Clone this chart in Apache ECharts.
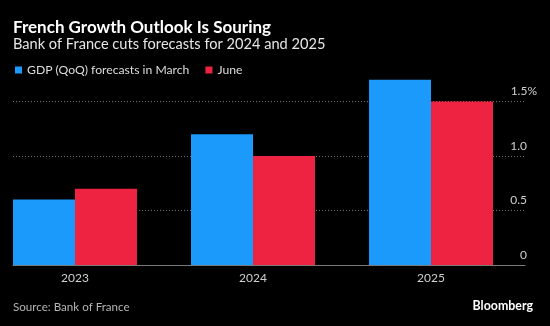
<!DOCTYPE html>
<html>
<head>
<meta charset="utf-8">
<script src="https://cdn.jsdelivr.net/npm/echarts@6/dist/echarts.min.js"></script>
<style>
  html, body { margin: 0; padding: 0; background: #000; }
  #chart { width: 550px; height: 326px; }
</style>
</head>
<body>
<div id="chart"></div>
<script>
// GDP (QoQ) growth forecasts, percent
const years = ['2023', '2024', '2025'];
const marchForecast = [0.6, 1.2, 1.7];
const juneForecast = [0.7, 1.0, 1.5];
const yTickValues = [0, 0.5, 1.0, 1.5];
const yTickLabels = ['0', '0.5', '1.0', '1.5%'];

const FONT = "Lato, 'Noto Sans', sans-serif";
const BLUE = '#1b9afc';
const RED = '#ee2241';
const LABEL = '#cfcfcf';

const chart = echarts.init(document.getElementById('chart'), null, { renderer: 'canvas' });

const toPoints = arr => arr.map((v, i) => [i, v]);

chart.setOption({
  backgroundColor: '#000',
  animation: false,
  textStyle: { fontFamily: FONT },
  title: [
    {
      text: 'French Growth Outlook Is Souring',
      left: 13, top: 19, padding: 0,
      textStyle: { color: '#fff', fontSize: 17, fontWeight: 'bold', fontFamily: FONT }
    },
    {
      text: 'Bank of France cuts forecasts for 2024 and 2025',
      left: 13, top: 37, padding: 0,
      textStyle: { color: '#e6e6e6', fontSize: 14.6, fontWeight: 'normal', fontFamily: FONT }
    },
    {
      text: 'Source: Bank of France',
      left: 13, top: 301, padding: 0,
      textStyle: { color: '#b4b4b4', fontSize: 11.6, fontWeight: 'normal', fontFamily: FONT }
    },
    {
      text: 'Bloomberg',
      right: 17, top: 300, padding: 0,
      textStyle: { color: '#fff', fontSize: 12.4, fontWeight: 'bold', fontFamily: FONT }
    }
  ],
  legend: {
    left: 15, top: 64, padding: 0,
    icon: 'rect',
    itemWidth: 7, itemHeight: 7,
    itemGap: 16,
    textStyle: { color: '#dcdcdc', fontSize: 12.2, fontFamily: FONT },
    data: ['GDP (QoQ) forecasts in March', 'June']
  },
  grid: { left: 13, right: 25, top: 74.25, bottom: 61, containLabel: false },
  xAxis: {
    type: 'value',
    min: -0.3483,
    max: 2.528,
    splitLine: { show: false },
    axisTick: { show: false },
    axisLine: { show: true, onZero: false, lineStyle: { color: '#7a7a7a', width: 1 } },
    axisLabel: {
      color: LABEL, fontSize: 12, fontFamily: FONT, margin: 7,
      customValues: years.map((_, i) => i),
      formatter: v => {
        const i = Math.round(v);
        return Math.abs(v - i) < 1e-6 && years[i] !== undefined ? years[i] : '';
      }
    }
  },
  yAxis: {
    type: 'value',
    position: 'right',
    min: 0, max: 1.75, interval: 0.5,
    axisLine: { show: false },
    axisTick: { show: false },
    splitLine: {
      show: true, showMinLine: false, showMaxLine: false,
      lineStyle: { color: '#6e6e6e', type: [1, 2], width: 1 }
    },
    axisLabel: {
      inside: true,
      margin: -12,
      verticalAlign: 'bottom',
      showMaxLabel: false,
      padding: [0, 0, 4, 0],
      color: LABEL, fontSize: 12, fontFamily: FONT,
      formatter: v => {
        const k = yTickValues.findIndex(t => Math.abs(t - v) < 1e-6);
        if (k < 0) return '';
        const lab = yTickLabels[k];
        // the percent sign hangs to the right of the number column
        return lab.endsWith('%')
          ? '{n|' + lab.slice(0, -1) + '}{p|%}'
          : '{n|' + lab + '}{s|}';
      },
      rich: {
        n: { color: LABEL, fontSize: 12, fontFamily: FONT },
        p: { color: LABEL, fontSize: 12, fontFamily: FONT },
        s: { width: 10 }
      }
    }
  },
  series: [
    {
      name: 'GDP (QoQ) forecasts in March',
      type: 'bar',
      data: toPoints(marchForecast),
      barWidth: 62,
      barGap: '0%',
      itemStyle: { color: BLUE }
    },
    {
      name: 'June',
      type: 'bar',
      data: toPoints(juneForecast),
      barWidth: 62,
      barGap: '0%',
      itemStyle: { color: RED }
    }
  ]
});
</script>
</body>
</html>
